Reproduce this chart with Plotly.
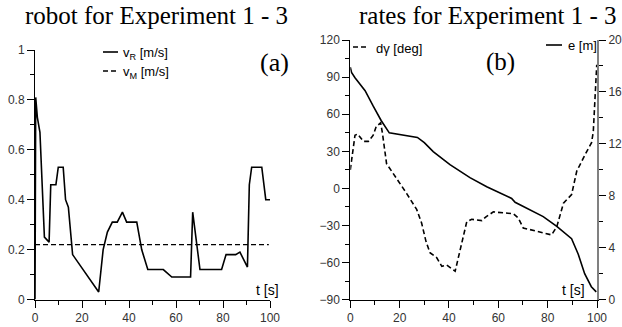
import plotly.graph_objects as go

# ---------------- data ----------------
t_vr = [0, 0.3, 1.0, 2.1, 4.0, 6.0, 6.7, 8.9, 9.9, 12.0, 13.0, 14.2, 16.0, 27.1, 29.0, 30.8,
        32.9, 35.0, 37.2, 39.0, 43.3, 45.4, 48.0, 54.6, 58.2, 66.2, 67.1, 70.2, 79.4, 81.3,
        85.4, 87.2, 90.4, 91.2, 92.2, 96.5, 98.2, 100]
v_r = [0, 0.81, 0.73, 0.67, 0.25, 0.23, 0.46, 0.46, 0.53, 0.53, 0.40, 0.37, 0.18, 0.03, 0.20, 0.27,
       0.31, 0.31, 0.35, 0.31, 0.31, 0.20, 0.12, 0.12, 0.09, 0.09, 0.35, 0.12, 0.12, 0.18,
       0.18, 0.19, 0.13, 0.46, 0.53, 0.53, 0.40, 0.40]
t_vm = [0, 99.5]
v_m = [0.22, 0.22]

t_dg = [0, 0.6, 1.9, 3.0, 5.3, 7.3, 9.3, 10.5, 12.3, 13.0, 14.1, 14.7, 22.8, 26.9, 28.9, 30.7,
        32.3, 35.0, 37.1, 39.1, 42.5, 44.5, 47.2, 49.2, 53.3, 55.0, 58.0, 66.1, 68.1, 70.1,
        81.6, 83.7, 86.4, 89.7, 91.8, 95.1, 97.8, 98.5, 99.2, 99.9]
d_gamma = [15, 25, 43, 44, 38, 38, 43, 50, 53, 45, 26, 20, -4, -17, -28, -43,
           -52, -56, -63, -62, -67, -50, -27, -25, -26, -23, -19, -20.5, -24, -32,
           -37.6, -31, -12, -5, 14, 27, 37, 46, 75, 100]

t_e = [0, 0.5, 1.9, 6.0, 9.3, 12.5, 15.8, 27.2, 30.0, 33.6, 40.4, 48.5, 55.3, 65.4, 66.8,
       72.0, 78.2, 83.7, 89.7, 92.4, 95.0, 97.7, 99.7]
e_m = [17.9, 17.5, 17.1, 16.1, 14.9, 13.8, 12.85, 12.5, 12.1, 11.4, 10.4, 9.4, 8.7, 7.8, 7.5,
       7.0, 6.4, 5.65, 4.7, 3.5, 2.0, 1.0, 0.6]

W, H = 622, 327
def px(x):
    return x / W
def py(y):
    return 1 - y / H

TICKF = dict(family="Arial, Liberation Sans, sans-serif", size=12, color="#333")
SERIF = "Times New Roman, Liberation Serif, serif"
SANS = "Arial, Liberation Sans, sans-serif"
LINE = dict(color="black", width=1.6)
DASH = "5px,3px"

fig = go.Figure()
fig.add_trace(go.Scatter(x=t_vr, y=v_r, mode="lines", line=LINE, xaxis="x", yaxis="y",
                         showlegend=False, name="vR"))
fig.add_trace(go.Scatter(x=t_vm, y=v_m, mode="lines", line=dict(color="black", width=1.4, dash=DASH),
                         xaxis="x", yaxis="y", showlegend=False, name="vM"))
fig.add_trace(go.Scatter(x=t_dg, y=d_gamma, mode="lines", line=dict(color="black", width=1.6, dash=DASH),
                         xaxis="x2", yaxis="y2", showlegend=False, name="dγ"))
fig.add_trace(go.Scatter(x=t_e, y=e_m, mode="lines", line=LINE, xaxis="x2", yaxis="y3",
                         showlegend=False, name="e"))

common = dict(showline=True, linecolor="black", linewidth=1, ticks="outside", ticklen=7,
              tickwidth=1, tickcolor="black", showgrid=False, zeroline=False, tickfont=TICKF,
              automargin=False)

fig.update_layout(
    width=W, height=H, margin=dict(l=0, r=0, t=0, b=0, pad=0, autoexpand=False),
    showlegend=False,
    paper_bgcolor="white", plot_bgcolor="white",
    xaxis=dict(domain=[px(35), px(270)], range=[0, 100], dtick=20, anchor="y",
               minor=dict(dtick=10, ticklen=4, ticks="outside", tickcolor="black"), **common),
    yaxis=dict(domain=[py(299.5), py(50)], range=[0, 1], dtick=0.2, anchor="x",
               minor=dict(dtick=0.1, ticklen=4, ticks="outside", tickcolor="black"), **common),
    xaxis2=dict(domain=[px(350.3), px(597)], range=[0, 100], dtick=20, anchor="y2",
                minor=dict(dtick=10, ticklen=4, ticks="outside", tickcolor="black"), **common),
    yaxis2=dict(domain=[py(299.7), py(40)], range=[-90, 120], dtick=30, anchor="x2",
                minor=dict(dtick=15, ticklen=4, ticks="outside", tickcolor="black"), **common),
    yaxis3=dict(overlaying="y2", side="right", anchor="x2", range=[0, 20], dtick=4,
                showline=True, linecolor="#808080", linewidth=2, ticks="outside", ticklen=7,
                tickwidth=1, tickcolor="black", showgrid=False, zeroline=False, tickfont=TICKF,
                automargin=False,
                minor=dict(dtick=2, ticklen=4, ticks="outside", tickcolor="black")),
)

ann = []
ann.append(dict(text="robot for Experiment 1 - 3", x=px(157), y=py(16), xref="paper", yref="paper",
                xanchor="center", yanchor="middle",
                showarrow=False, font=dict(family=SERIF, size=25, color="black")))
ann.append(dict(text="rates for Experiment 1 - 3", x=px(488), y=py(16), xref="paper", yref="paper",
                xanchor="center", yanchor="middle",
                showarrow=False, font=dict(family=SERIF, size=25, color="black")))
ann.append(dict(text="(a)", x=px(274), y=py(63), xref="paper", yref="paper",
                xanchor="center", yanchor="middle",
                showarrow=False, font=dict(family=SERIF, size=26, color="black")))
ann.append(dict(text="(b)", x=px(501), y=py(62), xref="paper", yref="paper",
                xanchor="center", yanchor="middle",
                showarrow=False, font=dict(family=SERIF, size=25, color="black")))
ann.append(dict(text="t [s]", x=px(281), y=py(290), xref="paper", yref="paper", xanchor="right",
                yanchor="middle", showarrow=False, font=dict(family=SANS, size=14, color="black")))
ann.append(dict(text="t [s]", x=px(587), y=py(290), xref="paper", yref="paper", xanchor="right",
                yanchor="middle", showarrow=False, font=dict(family=SANS, size=14, color="black")))
LEGF = dict(family=SANS, size=13, color="black")
ann.append(dict(text="v<sub>R</sub> [m/s]", x=px(121), y=py(53), xref="paper", yref="paper",
                xanchor="left", yanchor="middle", showarrow=False, font=LEGF))
ann.append(dict(text="v<sub>M</sub> [m/s]", x=px(121), y=py(72), xref="paper", yref="paper",
                xanchor="left", yanchor="middle", showarrow=False, font=LEGF))
ann.append(dict(text="dγ [deg]", x=px(374), y=py(48), xref="paper", yref="paper",
                xanchor="left", yanchor="middle", showarrow=False, font=LEGF))
ann.append(dict(text="e [m]", x=px(566), y=py(46), xref="paper", yref="paper",
                xanchor="left", yanchor="middle", showarrow=False, font=LEGF))
fig.update_layout(annotations=ann)

shapes = [
    dict(type="line", xref="paper", yref="paper", x0=px(103), x1=px(118), y0=py(52), y1=py(52),
         line=dict(color="black", width=1.6)),
    dict(type="line", xref="paper", yref="paper", x0=px(103), x1=px(118), y0=py(71), y1=py(71),
         line=dict(color="black", width=1.4, dash=DASH)),
    dict(type="line", xref="paper", yref="paper", x0=px(353), x1=px(369), y0=py(47), y1=py(47),
         line=dict(color="black", width=1.4, dash=DASH)),
    dict(type="line", xref="paper", yref="paper", x0=px(546), x1=px(562), y0=py(45), y1=py(45),
         line=dict(color="black", width=1.6)),
]
fig.update_layout(shapes=shapes)

fig.write_html(
    "out.html",
    config={"displayModeBar": False, "staticPlot": True},
    post_script="document.body.style.margin='0';document.body.style.padding='0';"
                "document.documentElement.style.overflow='hidden';",
)
